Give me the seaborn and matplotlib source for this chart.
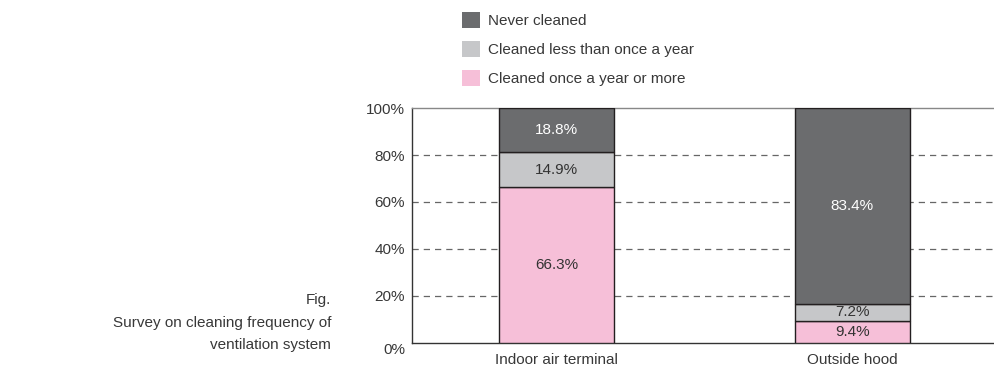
import matplotlib
matplotlib.use("Agg")
import matplotlib.pyplot as plt
import seaborn as sns
import pandas as pd
import numpy as np

# Survey data: share of respondents per cleaning frequency
locations = ["Indoor air terminal", "Outside hood"]
once_a_year_or_more = [66.3, 9.4]
less_than_once = [14.9, 7.2]
never_cleaned = [18.8, 83.4]

series_names = ["Cleaned once a year or more", "Cleaned less than once a year", "Never cleaned"]
series_values = [once_a_year_or_more, less_than_once, never_cleaned]
series_colors = ["#f6bfd8", "#c6c7c9", "#6b6c6e"]
label_colors = ["#333333", "#333333", "#ffffff"]
y_ticks = [0, 20, 40, 60, 80, 100]

sns.set_theme(style="white")
plt.rcParams["font.family"] = ["Liberation Sans", "DejaVu Sans"]

FS = 11
fig = plt.figure(figsize=(9.94, 3.69), dpi=100)
ax = fig.add_axes([0.4145, 0.0705, 0.5855, 0.6368])

text_color = "#383838"
edge = "#231f20"

bottom = np.zeros(len(locations))
handles = []
for name, vals, col, lc in zip(series_names, series_values, series_colors, label_colors):
    df = pd.DataFrame({"location": locations, "value": vals})
    sns.barplot(data=df, x="location", y="value", color=col, bottom=bottom,
                width=0.39, edgecolor=edge, linewidth=1.0, ax=ax, zorder=3,
                saturation=1, errorbar=None)
    for i, v in enumerate(vals):
        ax.text(i, bottom[i] + v / 2, f"{v}%", ha="center", va="center",
                color=lc, fontsize=FS, zorder=5)
    handles.append(plt.Rectangle((0, 0), 1, 1, facecolor=col, edgecolor="none"))
    bottom = bottom + np.array(vals)

ax.set_xlim(-0.49, 0.48 + 1)
ax.set_ylim(0, 100)
ax.set_yticks(y_ticks)
ax.set_yticklabels([f"{t}%" for t in y_ticks])
for t in ax.get_yticklabels():
    t.set_color(text_color)
    t.set_fontsize(FS)
ax.get_yticklabels()[0].set_va("top")

# dashed guides at the intermediate percentages
for t in y_ticks[1:-1]:
    ax.axhline(t, color="#666666", linestyle=(0, (5, 4)), linewidth=0.9, zorder=1)

ax.set_xticks([0.5], minor=True)
ax.tick_params(axis="x", which="minor", direction="in", length=6, width=0.9, color="#333333")
ax.tick_params(axis="x", which="major", length=0, labelsize=FS, labelcolor=text_color, pad=7)
ax.tick_params(axis="y", length=0, pad=5)
ax.set_xlabel("")
ax.set_ylabel("")

for side in ["left", "bottom"]:
    ax.spines[side].set_color("#333333")
    ax.spines[side].set_linewidth(1.0)
ax.spines["top"].set_color("#888888")
ax.spines["top"].set_linewidth(1.0)
ax.spines["right"].set_visible(False)

# legend above the plot, listed top-down from darkest to lightest
leg = fig.legend(handles[::-1], series_names[::-1], loc="upper left",
                 bbox_to_anchor=(0.452, 1.0), frameon=False, fontsize=FS,
                 handlelength=1.2, handleheight=1.2, labelspacing=0.85,
                 handletextpad=0.55, borderaxespad=0.4)
for t in leg.get_texts():
    t.set_color(text_color)

fig.text(0.333, 0.205, "Fig.\nSurvey on cleaning frequency of\nventilation system",
         ha="right", va="top", fontsize=FS, color=text_color, linespacing=1.75,
         multialignment="right")

fig.savefig("out.png", dpi=100)
